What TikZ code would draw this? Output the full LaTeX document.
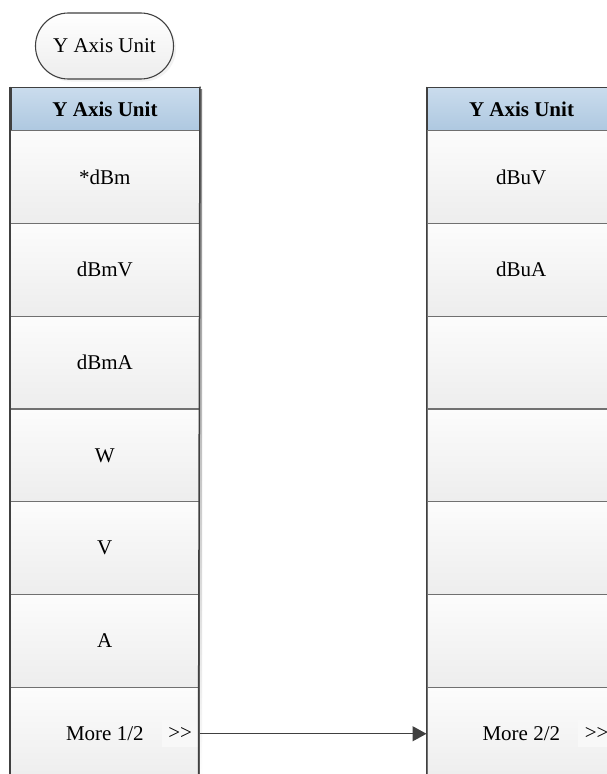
\documentclass[tikz,border=0pt]{standalone}
\usepackage{fontspec}
\setmainfont{Liberation Serif}
\usetikzlibrary{arrows.meta,shadows}
\definecolor{edge}{HTML}{404040}
\definecolor{sep}{HTML}{707070}
\definecolor{hdrtop}{HTML}{CADCED}
\definecolor{hdrbot}{HTML}{AEC8E0}
\definecolor{celltop}{HTML}{FCFCFC}
\definecolor{cellbot}{HTML}{EDEDED}
\definecolor{shade}{HTML}{E6E6E6}
\definecolor{gtfill}{HTML}{F8F8F8}
\begin{document}
\begin{tikzpicture}[x=1pt,y=-1pt,
  lbl/.style={font=\fontsize{21}{25}\selectfont},
  cellbox/.style={lbl, draw=sep, line width=1.1pt, top color=celltop, bottom color=cellbot,
    minimum width=188.5pt, minimum height=92.8pt, inner sep=0pt, anchor=north west},
  hdrbox/.style={font=\fontsize{21}{25}\selectfont\bfseries, draw=edge, line width=1.5pt,
    top color=hdrtop, bottom color=hdrbot, minimum width=188.5pt, minimum height=43.5pt,
    inner sep=0pt, anchor=north west},
  ovalbox/.style={lbl, draw=edge, line width=1.1pt, rounded corners=32.9pt, top color=white,
    bottom color=cellbot, minimum width=138pt, minimum height=66pt, inner sep=0pt,
    drop shadow={shadow xshift=2.5pt, shadow yshift=-2.5pt, fill=shade}},
  gtbox/.style={lbl, fill=gtfill, minimum width=37pt, minimum height=27pt, inner sep=0pt, anchor=east},
  colside/.style={draw=edge, line width=1.5pt},
  link/.style={draw=edge, line width=1.3pt, -{Triangle[length=14pt,width=15pt]}}
]
\useasboundingbox (0,0) rectangle (607,774);
\clip (0,0) rectangle (607,774);
\fill[white] (0,0) rectangle (607,774);

% title
\node[ovalbox] (title) at (104.5,46) {Y Axis Unit};

% shadows of columns
\fill[shade] (13,89.5) rectangle (202,782);
\fill[shade] (429.5,89.5) rectangle (618,782);

% left column
\node[hdrbox] (L0) at (10,86.5) {Y Axis Unit};
\node[cellbox] (L1) at (10,130) {*dBm};
\node[cellbox] (L2) at (10,222.8) {dBmV};
\node[cellbox] (L3) at (10,315.6) {dBmA};
\node[cellbox] (L4) at (10,408.4) {W};
\node[cellbox] (L5) at (10,501.2) {V};
\node[cellbox] (L6) at (10,594) {A};
\node[cellbox] (L7) at (10,686.8) {More 1/2};
\node[gtbox] (L7g) at ([xshift=-0.8pt]L7.east) {{>}{>}};
\draw[colside] (L0.north west) -- (10,780);
\draw[colside] (L0.north east) -- (198.5,780);

% right column
\node[hdrbox] (R0) at (426.5,86.5) {Y Axis Unit};
\node[cellbox] (R1) at (426.5,130) {dBuV};
\node[cellbox] (R2) at (426.5,222.8) {dBuA};
\node[cellbox] (R3) at (426.5,315.6) {};
\node[cellbox] (R4) at (426.5,408.4) {};
\node[cellbox] (R5) at (426.5,501.2) {};
\node[cellbox] (R6) at (426.5,594) {};
\node[cellbox] (R7) at (426.5,686.8) {More 2/2};
\node[gtbox] (R7g) at ([xshift=-0.8pt]R7.east) {{>}{>}};
\draw[colside] (R0.north west) -- (426.5,780);

% connector
\path[link] (L7.east) -- (R7.west);
\end{tikzpicture}
\end{document}
